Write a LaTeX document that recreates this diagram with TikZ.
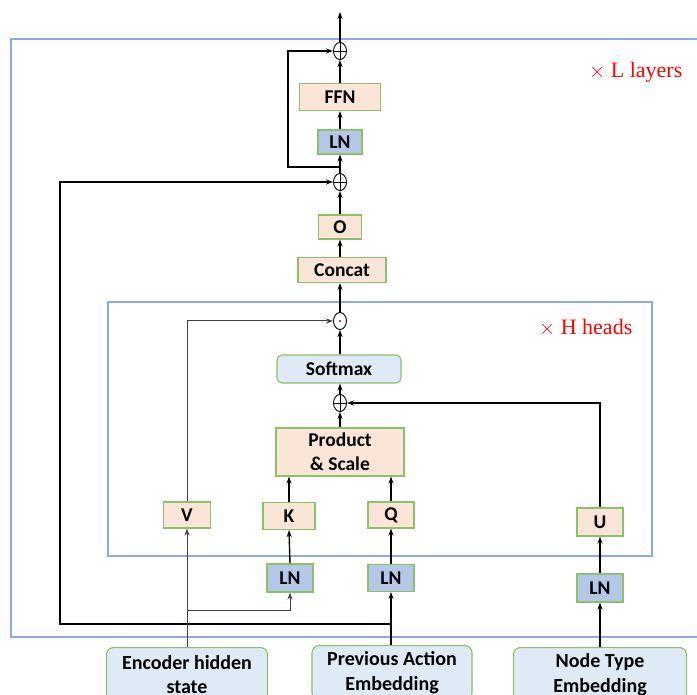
\documentclass[tikz,border=0pt]{standalone}
\usepackage{fontspec}
\setmainfont{Carlito}
\newfontfamily\serifred{Liberation Serif}
\usetikzlibrary{arrows.meta,shapes.geometric}
\definecolor{peach}{HTML}{FBE5D6}
\definecolor{greenb}{HTML}{8CC16A}
\definecolor{lnblue}{HTML}{B4C7E7}
\definecolor{lightblue}{HTML}{DEEBF7}
\definecolor{frameblue}{HTML}{8FAADC}
\definecolor{redtxt}{HTML}{FF0000}
\tikzset{
  box/.style={draw=greenb,line width=1.1pt,font=\bfseries\fontsize{19.5}{24}\selectfont,inner sep=0pt},
  peachbox/.style={box,fill=peach},
  lnbox/.style={box,fill=lnblue},
  inbox/.style={draw=greenb,line width=1.1pt,fill=lightblue,rounded corners=7pt,font=\bfseries\fontsize{20}{24.5}\selectfont,align=center,inner sep=0pt},
  opnode/.style={draw,ellipse,line width=0.9pt,minimum width=13pt,minimum height=17pt,inner sep=0pt,fill=white},
  arr/.style={-{Stealth[length=7pt,width=5pt]},line width=1.4pt},
  garr/.style={-{Stealth[length=7pt,width=5pt]},line width=1pt,draw=black!75},
  frame/.style={draw=frameblue,line width=1.1pt},
  redlabel/.style={text=redtxt,font=\serifred\fontsize{22}{26}\selectfont,anchor=west,inner sep=0pt},
}
\begin{document}
\begin{tikzpicture}[x=1pt,y=-1pt]
\useasboundingbox (0,0) rectangle (697,695);
% frames
\draw[frame] (705,39) -- (11,39) -- (11,637) -- (705,637);
\draw[frame] (108,302) rectangle (652,556);
\node[redlabel] (ll) at (589,72) {$\times$ L layers};
\node[redlabel] (hh) at (539,328) {$\times$ H heads};
% main column
\node[opnode] (p1) at (340,51) {};
\draw[line width=0.9pt] (p1.north) -- (p1.south) (p1.west) -- (p1.east);
\node[peachbox,minimum width=81pt,minimum height=27pt] (ffn) at (340,97) {FFN};
\node[lnbox,minimum width=44pt,minimum height=24pt] (ln1) at (340,142) {LN};
\node[opnode] (p2) at (340,182) {};
\draw[line width=0.9pt] (p2.north) -- (p2.south) (p2.west) -- (p2.east);
\node[peachbox,minimum width=43pt,minimum height=24pt] (o) at (340,227) {O};
\node[peachbox,minimum width=88pt,minimum height=25pt] (cc) at (342,270) {Concat};
\node[opnode] (od) at (340,321) {};
\fill[red!70!black] (od.center) circle (1.1pt);
\node[box,fill=lightblue,rounded corners=5pt,minimum width=124pt,minimum height=28pt] (sm) at (339,369) {Softmax};
\node[opnode] (p3) at (340,403) {};
\draw[line width=0.9pt] (p3.north) -- (p3.south) (p3.west) -- (p3.east);
\node[peachbox,minimum width=128pt,minimum height=48pt,align=center] (ps) at (340,452) {Product\\\& Scale};
\node[peachbox,minimum width=47pt,minimum height=26pt] (v) at (187,515) {V};
\node[peachbox,minimum width=52pt,minimum height=27pt] (k) at (289,516) {K};
\node[peachbox,minimum width=46pt,minimum height=26pt] (q) at (391,515) {Q};
\node[peachbox,minimum width=46pt,minimum height=28pt] (u) at (600,522) {U};
\node[lnbox,minimum width=46pt,minimum height=28pt] (lnk) at (290,578) {LN};
\node[lnbox,minimum width=46pt,minimum height=27pt] (lnq) at (391,578) {LN};
\node[lnbox,minimum width=46pt,minimum height=28pt] (lnu) at (600,588) {LN};
\node[inbox,minimum width=161pt,minimum height=54pt,anchor=north] (enc) at (187,647) {Encoder hidden\\state};
\node[inbox,minimum width=160pt,minimum height=54pt,anchor=north] (pae) at (392,645) {Previous Action\\Embedding};
\node[inbox,minimum width=173pt,minimum height=54pt,anchor=north] (nte) at (600,647) {Node Type\\Embedding};
% coordinates
\coordinate (top) at (340,12);
\coordinate (s1) at (340,167);
\coordinate (s1l) at (288,167);
\coordinate (jq) at (391,624);
\coordinate (lft) at (60,624);
\coordinate (eb) at (187,610);
% connectors
\draw[arr] (p1.north) -- (top);
\draw[arr] (ffn.north) -- (p1.south);
\draw[arr] (ln1.north) -- (ffn.south);
\draw[arr] (p2.north) -- (ln1.south);
\draw[arr] (s1) -- (s1l) |- (p1.west);
\draw[arr] (o.north) -- (p2.south);
\draw[arr] (cc.north -| o.north) -- (o.south);
\draw[arr] (od.north) -- (cc.south -| od.north);
\draw[arr] (sm.north -| od.south) -- (od.south);
\draw[arr] (p3.north) -- (sm.south -| p3.north);
\draw[arr] (ps.north -| p3.south) -- (p3.south);
\draw[arr] (k.north) -- (ps.south -| k.north);
\draw[arr] (q.north) -- (ps.south -| q.north);
\draw[arr] (u.north) |- (p3.east);
\draw[garr] (v.north) |- (od.west);
\draw[arr] (lnk.north) -- (k.south);
\draw[arr] (lnq.north) -- (q.south);
\draw[arr] (lnu.north) -- (u.south);
\draw[arr] (nte.north) -- (lnu.south);
\draw[arr] (pae.north -| lnq.south) -- (lnq.south);
\draw[arr] (jq) -- (lft) |- (p2.west);
\draw[garr] (enc.north) -- (v.south);
\draw[garr] (eb) -| (lnk.south);
\end{tikzpicture}
\end{document}
